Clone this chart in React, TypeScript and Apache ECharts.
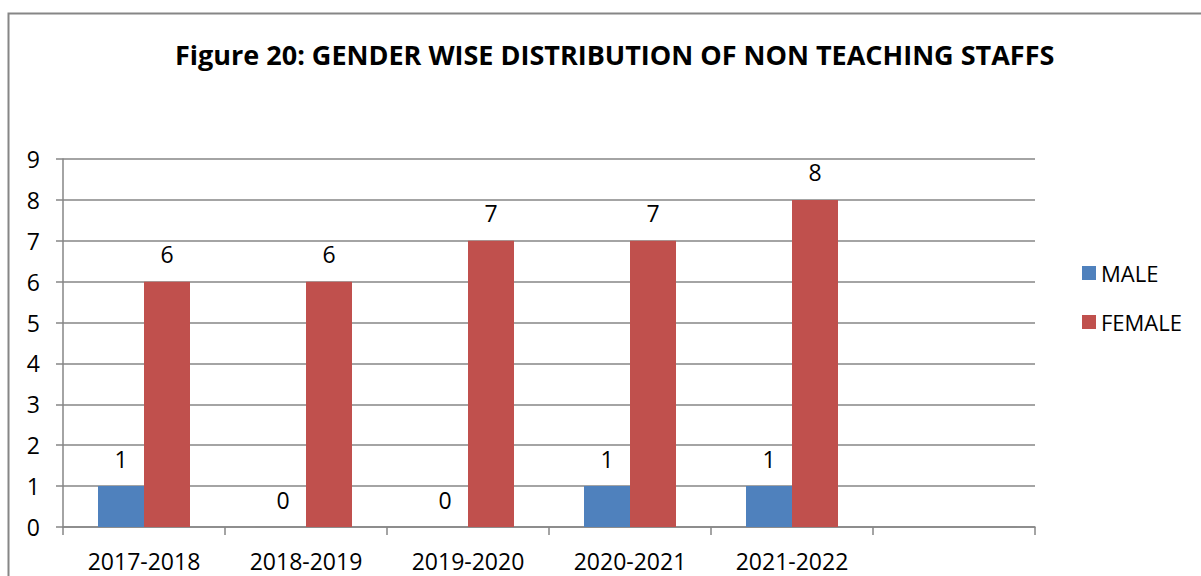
import React, { useEffect, useRef } from "react";
import * as echarts from "echarts";

const categories = ["2017-2018", "2018-2019", "2019-2020", "2020-2021", "2021-2022", ""];
const maleValues: (number | null)[] = [1, 0, 0, 1, 1, null];
const femaleValues: (number | null)[] = [6, 6, 7, 7, 8, null];
const yTicks = [0, 1, 2, 3, 4, 5, 6, 7, 8, 9];
const titleText = "Figure 20: GENDER WISE DISTRIBUTION OF NON TEACHING STAFFS";

const FONT = "'Open Sans', 'Noto Sans', sans-serif";
const GRID_GRAY = "#868686";

export default function App() {
  const ref = useRef<HTMLDivElement>(null);
  useEffect(() => {
    if (!ref.current) return;
    const chart = echarts.init(ref.current, null, { renderer: "svg" });
    const labelStyle = {
      show: true,
      position: "top" as const,
      distance: 16,
      color: "#000",
      fontSize: 23,
      fontFamily: FONT,
    };
    chart.setOption({
      animation: false,
      backgroundColor: "#fff",
      title: {
        text: titleText,
        left: 175,
        top: 41,
        padding: 0,
        textStyle: { fontFamily: FONT, fontWeight: "bold", fontSize: 27, color: "#000" },
      },
      graphic: [
        {
          type: "rect",
          shape: { x: 8.5, y: 13.5, width: 1400, height: 800 },
          style: { fill: "none", stroke: GRID_GRAY, lineWidth: 2 },
          silent: true,
        },
      ],
      legend: {
        orient: "vertical",
        left: 1077,
        top: 256,
        itemWidth: 14,
        itemHeight: 14,
        itemGap: 25,
        icon: "rect",
        textStyle: { fontFamily: FONT, fontSize: 22, color: "#000", lineHeight: 24, padding: [0, 0, 0, 0] },
        data: ["MALE", "FEMALE"],
      },
      grid: { left: 63, right: 166, top: 159, bottom: 49, containLabel: false },
      xAxis: {
        type: "category",
        data: categories,
        axisLine: { show: true, lineStyle: { color: GRID_GRAY, width: 1.5 } },
        axisTick: { show: true, length: 8, lineStyle: { color: GRID_GRAY, width: 1.5 } },
        axisLabel: { color: "#000", fontSize: 23, fontFamily: FONT, margin: 22, interval: 0 },
      },
      yAxis: {
        type: "value",
        min: 0,
        max: 9,
        interval: 1,
        axisLine: { show: true, lineStyle: { color: GRID_GRAY, width: 1.5 } },
        axisTick: { show: true, length: 7, lineStyle: { color: GRID_GRAY, width: 1.5 } },
        splitLine: { show: true, lineStyle: { color: GRID_GRAY, width: 1.5 } },
        axisLabel: {
          color: "#000",
          fontSize: 23,
          fontFamily: FONT,
          margin: 23,
          formatter: (v: number) => (yTicks.includes(v) ? String(v) : ""),
        },
      },
      series: [
        {
          name: "MALE",
          type: "bar",
          data: maleValues,
          barWidth: 46,
          barGap: "0%",
          itemStyle: { color: "#4F81BD" },
          label: labelStyle,
        },
        {
          name: "FEMALE",
          type: "bar",
          data: femaleValues,
          barWidth: 46,
          barGap: "0%",
          itemStyle: { color: "#C0504D" },
          label: labelStyle,
        },
      ],
    });
    return () => chart.dispose();
  }, []);
  return (
    <div
      ref={ref}
      style={{ position: "fixed", left: 0, top: 0, width: 1201, height: 576 }}
    />
  );
}
